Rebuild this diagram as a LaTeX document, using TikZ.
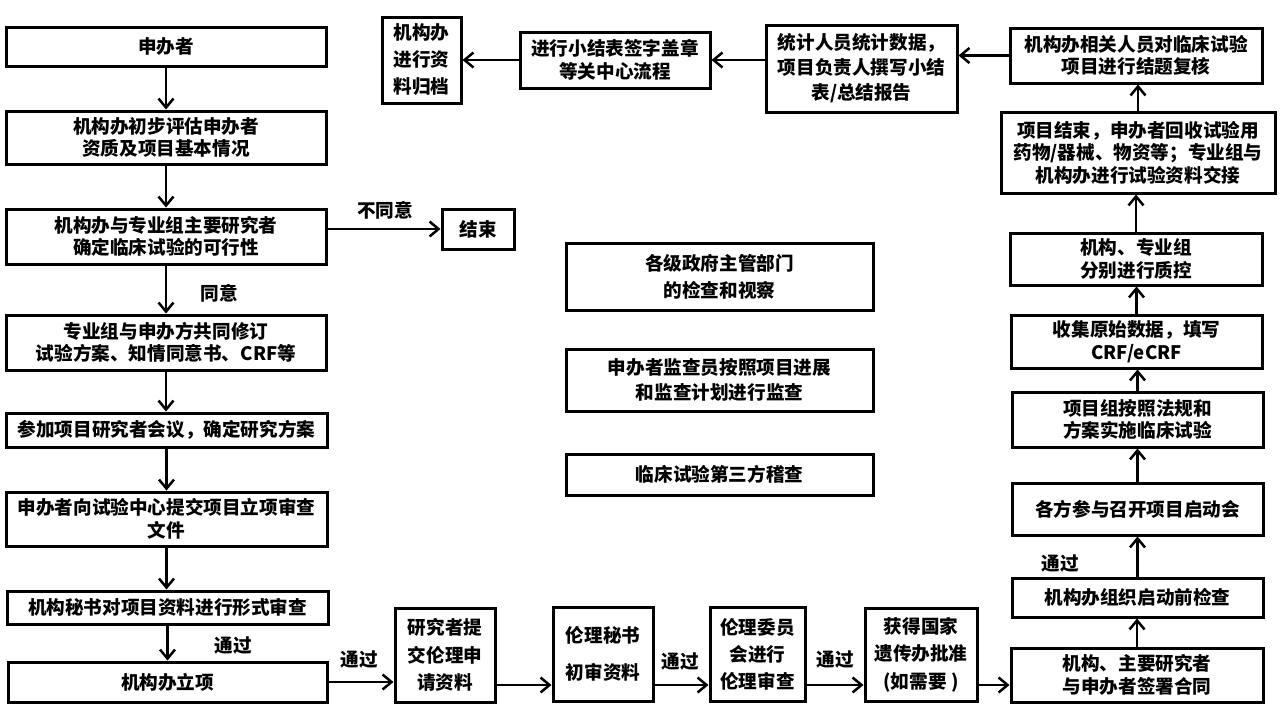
\documentclass[tikz,border=0pt]{standalone}
\usepackage{fontspec}
\setmainfont{Noto Sans CJK SC}
\usetikzlibrary{arrows.meta,calc}
\tikzset{
  bx/.style={draw, line width=3pt, fill=white, inner sep=0pt, align=center,
    font=\bfseries\fontsize{18.6}{22.5}\selectfont},
  arr/.style={line width=2.5pt, -{Straight Barb[length=9pt,width=15pt,line width=2.5pt]}},
  lbl/.style={font=\bfseries\fontsize{18.6}{22.5}\selectfont, inner sep=0pt}
}
\newcommand{\mkbox}[7][]{\node[bx,#1, minimum width={#5pt-#3pt}, minimum height={#6pt-#4pt}] (#2) at ({(#3+#5)/2},{(#4+#6)/2}) {#7};}
\begin{document}
\begin{tikzpicture}[x=1pt,y=-1pt]
\useasboundingbox (0,0) rectangle (1280,720);
\fill[white] (0,0) rectangle (1280,720);
% left column
\mkbox{L1}{6}{27}{326}{66}{申办者}
\mkbox{L2}{6}{111}{326}{164}{机构办初步评估申办者\\资质及项目基本情况}
\mkbox{L3}{6}{209}{326}{264}{机构办与专业组主要研究者\\确定临床试验的可行性}
\mkbox{L4}{6}{315}{326}{370}{专业组与申办方共同修订\\试验方案、知情同意书、CRF等}
\mkbox{L5}{6}{413}{327}{447}{参加项目研究者会议，确定研究方案}
\mkbox{L6}{6}{492}{327}{546}{申办者向试验中心提交项目立项审查\\文件}
\mkbox{L7}{7}{591}{328}{624}{机构秘书对项目资料进行形式审查}
\mkbox{L8}{8}{662}{327}{702}{机构办立项}
\mkbox{E}{442}{209}{514}{249}{结束}
% top row
\mkbox[font=\bfseries\fontsize{18.6}{27}\selectfont]{T1}{382}{17}{461}{103}{机构办\\进行资\\料归档}
\mkbox{T2}{520}{32}{710}{88}{进行小结表签字盖章\\等关中心流程}
\mkbox[font=\bfseries\fontsize{18.6}{25}\selectfont]{T3}{766}{25}{957}{112}{统计人员统计数据，\\项目负责人撰写小结\\表/总结报告}
\mkbox{T4}{1010}{28}{1262}{83}{机构办相关人员对临床试验\\项目进行结题复核}
% right column
\mkbox{R2}{1001}{112}{1275}{193}{项目结束，申办者回收试验用\\药物/器械、物资等；专业组与\\机构办进行试验资料交接}
\mkbox{R3}{1010}{233}{1262}{285}{机构、专业组\\分别进行质控}
\mkbox{R4}{1011}{315}{1262}{368}{收集原始数据，填写\\CRF/eCRF}
\mkbox{R5}{1012}{392}{1263}{447}{项目组按照法规和\\方案实施临床试验}
\mkbox{R6}{1012}{483}{1263}{535}{各方参与召开项目启动会}
\mkbox{R7}{1012}{578}{1263}{617}{机构办组织启动前检查}
\mkbox{R8}{1011}{648}{1263}{702}{机构、主要研究者\\与申办者签署合同}
% middle
\mkbox[font=\bfseries\fontsize{18.6}{27}\selectfont]{M1}{566}{243}{873}{310}{各级政府主管部门\\的检查和视察}
\mkbox[font=\bfseries\fontsize{18.6}{25}\selectfont]{M2}{566}{349}{873}{411}{申办者监查员按照项目进展\\和监查计划进行监查}
\mkbox{M3}{566}{454}{873}{495}{临床试验第三方稽查}
% bottom row
\mkbox[font=\bfseries\fontsize{18.6}{27.5}\selectfont]{B1}{395}{608}{495}{702}{研究者提\\交伦理申\\请资料}
\mkbox[font=\bfseries\fontsize{18.6}{37}\selectfont]{B2}{553}{607}{653}{701}{伦理秘书\\初审资料}
\mkbox[font=\bfseries\fontsize{18.6}{27}\selectfont]{B3}{710}{607}{805}{701}{伦理委员\\会进行\\伦理审查}
\mkbox[font=\bfseries\fontsize{18.6}{27.5}\selectfont]{B4}{865}{608}{977}{701}{获得国家\\遗传办批准\\(如需要 )}
\coordinate (ya) at (0,685);
% left column arrows
\foreach \a/\b in {L1/L2,L2/L3,L3/L4,L4/L5,L5/L6,L6/L7,L7/L8}
  \draw[arr] (\a.south) -- (\a.south |- \b.north);
\draw[arr] (L3.east |- E.west) -- (E.west);
\draw[arr] (L8.east) -- (L8.east -| B1.west);
% bottom arrows
\draw[arr] (B1.east |- ya) -- (B2.west |- ya);
\draw[arr] (B2.east |- ya) -- (B3.west |- ya);
\draw[arr] (B3.east |- ya) -- (B4.west |- ya);
\draw[arr] (B4.east |- ya) -- (R8.west |- ya);
% right column arrows
\foreach \a/\b in {R8/R7,R7/R6,R6/R5,R5/R4,R4/R3,R3/R2,R2/T4}
  \draw[arr] (\a.north) -- (\a.north |- \b.south);
% top arrows
\draw[arr] (T4.west) -- (T4.west -| T3.east);
\draw[arr] (T3.west |- T2.east) -- (T2.east);
\draw[arr] (T2.west) -- (T2.west -| T1.east);
% labels
\node[lbl] (n1) at (385,210) {不同意};
\node[lbl] (n2) at (219,293) {同意};
\node[lbl] (n3) at (233,646) {通过};
\node[lbl] (n4) at (359,660) {通过};
\node[lbl] (n5) at (680,662) {通过};
\node[lbl] (n6) at (835,660) {通过};
\node[lbl] (n7) at (1060,564) {通过};
\end{tikzpicture}
\end{document}
